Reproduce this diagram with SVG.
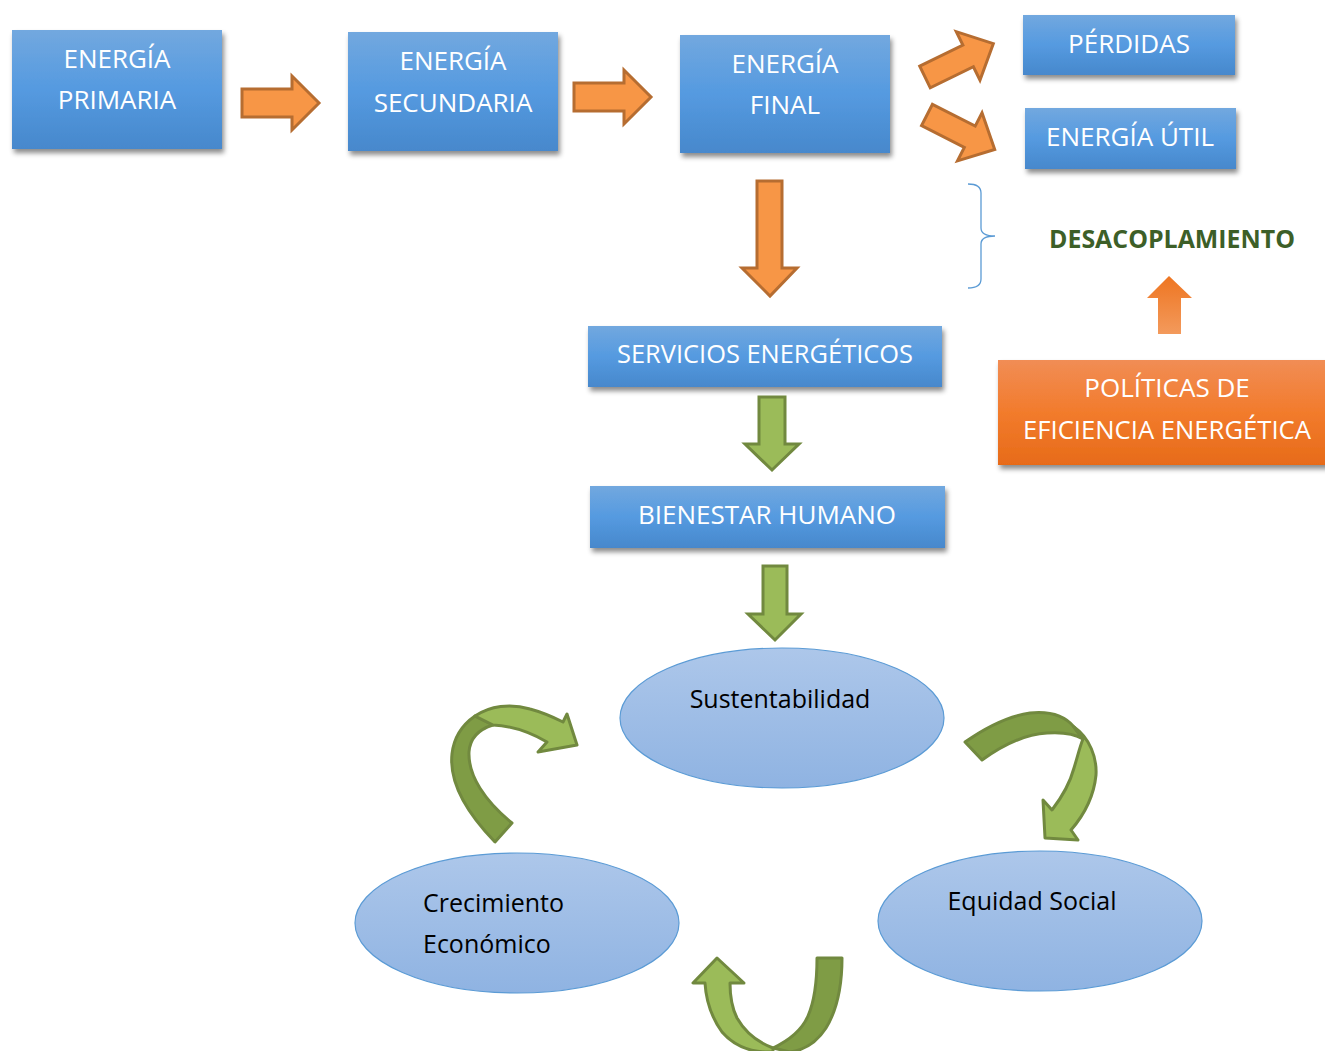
<svg xmlns="http://www.w3.org/2000/svg" width="1325" height="1051" viewBox="0 0 1325 1051">
  <defs>
    <linearGradient id="gBlue" x1="0" y1="0" x2="0" y2="1">
      <stop offset="0" stop-color="#72a8df"/>
      <stop offset="0.5" stop-color="#559ae0"/>
      <stop offset="1" stop-color="#4788cc"/>
    </linearGradient>
    <linearGradient id="gOrange" x1="0" y1="0" x2="0" y2="1">
      <stop offset="0" stop-color="#f18d55"/>
      <stop offset="0.5" stop-color="#f27b2c"/>
      <stop offset="1" stop-color="#e76b19"/>
    </linearGradient>
    <linearGradient id="gUp" x1="0" y1="0" x2="0" y2="1">
      <stop offset="0" stop-color="#ee7521"/>
      <stop offset="1" stop-color="#f39a5c"/>
    </linearGradient>
    <linearGradient id="gEllipse" x1="0" y1="0" x2="0" y2="1">
      <stop offset="0" stop-color="#adc7ea"/>
      <stop offset="1" stop-color="#8fb3e2"/>
    </linearGradient>
    <filter id="shadow" x="-10%" y="-20%" width="120%" height="150%">
      <feDropShadow dx="2" dy="4" stdDeviation="2.5" flood-color="#000" flood-opacity="0.45"/>
    </filter>
    <style>
      .box { fill: url(#gBlue); filter: url(#shadow); }
      .boxO { fill: url(#gOrange); filter: url(#shadow); }
      .lbl { font-family: "Open Sans", "Noto Sans", sans-serif; font-size: 26px; fill: #ffffff; text-anchor: middle; }
      .elab { font-family: "Open Sans", "Noto Sans", sans-serif; font-size: 25px; fill: #000000; }
      .ell { fill: url(#gEllipse); stroke: #5b9bd5; stroke-width: 1.2; }
      .arO { fill: #f79646; stroke: #b66d31; stroke-width: 3; stroke-linejoin: miter; }
      .arG { fill: #9bbb59; stroke: #71893f; stroke-width: 3; stroke-linejoin: miter; }
      .arGd { fill: #7f9c45; stroke: #71893f; stroke-width: 3; stroke-linejoin: round; }
      .arGl { fill: #9bbb59; stroke: #71893f; stroke-width: 3; stroke-linejoin: round; }
    </style>
  </defs>

  <!-- Energy chain boxes -->
  <g id="energia-primaria">
    <rect class="box" x="12" y="30" width="210" height="119"/>
    <text class="lbl" x="117" y="68">ENERGÍA</text>
    <text class="lbl" x="117" y="109">PRIMARIA</text>
  </g>
  <g id="energia-secundaria">
    <rect class="box" x="348" y="32" width="210" height="119"/>
    <text class="lbl" x="453" y="70">ENERGÍA</text>
    <text class="lbl" x="453" y="112">SECUNDARIA</text>
  </g>
  <g id="energia-final">
    <rect class="box" x="680" y="35" width="210" height="118"/>
    <text class="lbl" x="785" y="73">ENERGÍA</text>
    <text class="lbl" x="785" y="114">FINAL</text>
  </g>
  <g id="perdidas">
    <rect class="box" x="1023" y="15" width="212" height="60"/>
    <text class="lbl" x="1129" y="53">PÉRDIDAS</text>
  </g>
  <g id="energia-util">
    <rect class="box" x="1025" y="108" width="211" height="61"/>
    <text class="lbl" x="1130" y="146">ENERGÍA ÚTIL</text>
  </g>
  <g id="servicios">
    <rect class="box" x="588" y="326" width="354" height="61"/>
    <text class="lbl" x="765" y="363" textLength="296" lengthAdjust="spacingAndGlyphs">SERVICIOS ENERGÉTICOS</text>
  </g>
  <g id="bienestar">
    <rect class="box" x="590" y="486" width="355" height="62"/>
    <text class="lbl" x="767" y="524">BIENESTAR HUMANO</text>
  </g>
  <g id="politicas">
    <rect class="boxO" x="998" y="360" width="335" height="105"/>
    <text class="lbl" x="1167" y="397">POLÍTICAS DE</text>
    <text class="lbl" x="1167" y="439" textLength="288" lengthAdjust="spacingAndGlyphs">EFICIENCIA ENERGÉTICA</text>
  </g>
  <g id="desacoplamiento">
    <path d="M968,184 Q981,184 981,193 V228 Q981,236 995,236 Q981,236 981,244 V279 Q981,288 968,288" fill="none" stroke="#5b9bd5" stroke-width="1.3"/>
    <text x="1172" y="248" font-family="'Open Sans', 'Noto Sans', sans-serif" font-size="25" font-weight="bold" fill="#3d5f28" text-anchor="middle" textLength="246" lengthAdjust="spacingAndGlyphs">DESACOPLAMIENTO</text>
  </g>

  <!-- Sustainability ellipses -->
  <g id="sustentabilidad">
    <ellipse class="ell" cx="782" cy="718" rx="162" ry="70"/>
    <text class="elab" x="780" y="708" text-anchor="middle">Sustentabilidad</text>
  </g>
  <g id="crecimiento">
    <ellipse class="ell" cx="517" cy="923" rx="162" ry="70"/>
    <text class="elab" x="423" y="912">Crecimiento</text>
    <text class="elab" x="423" y="953">Económico</text>
  </g>
  <g id="equidad">
    <ellipse class="ell" cx="1040" cy="921" rx="162" ry="70"/>
    <text class="elab" x="1032" y="910" text-anchor="middle">Equidad Social</text>
  </g>

  <!-- Connectors -->
  <g id="connectors">
    <!-- block arrows along the energy chain -->
    <path class="arO" d="M242,89 H292 V76 L319,103 L292,130 V117 H242 Z"/>
    <path class="arO" d="M574,83 H624 V70 L651,97 L624,124 V111 H574 Z"/>
    <path class="arO" d="M0,-12 H48 V-27 L76,0 L48,27 V12 H0 Z" transform="translate(925,77) rotate(-26)"/>
    <path class="arO" d="M0,-12 H48 V-27 L76,0 L48,27 V12 H0 Z" transform="translate(927,115) rotate(27)"/>
    <path class="arO" d="M757,181 V268 H742 L770,296 L797,268 H782 V181 Z"/>
    <!-- policy arrow -->
    <path d="M1169,276 L1192,298 H1181 V334 H1158 V298 H1147 Z" fill="url(#gUp)"/>
    <!-- green down arrows -->
    <path class="arG" d="M759,397 V444 H745 L772,470 L799,444 H785 V397 Z"/>
    <path class="arG" d="M763,566 V614 H748 L775,640 L801,614 H787 V566 Z"/>

    <!-- curved arrow: growth to sustainability -->
    <path class="arGd" d="M495,842 C466,812 449,782 452,754 C454,736 462,725 475,716 L493,725 C480,729 470,737 469,752 C468,776 485,801 512,823 Z"/>
    <path class="arGl" d="M475,716 C490,706 510,703 530,709 C545,713 555,718 563,722 L567,714 L577,745 L538,752 L547,742 C535,735 515,726 493,725 Z"/>

    <!-- curved arrow: sustainability to equity -->
    <path class="arGd" d="M965,742 C985,728 1008,716 1030,713 C1050,711 1065,716 1074,727 L1083,739 C1075,734 1062,732 1047,733 C1025,734 1003,745 982,760 Z"/>
    <path class="arGl" d="M1074,727 C1090,738 1097,758 1096,775 C1094,795 1084,815 1071,830 L1078,840 L1045,838 L1043,800 L1052,810 C1062,797 1070,783 1074,768 C1078,755 1080,746 1083,739 Z"/>

    <!-- curved arrow: equity to growth -->
    <path class="arGd" d="M817,958 H842 C842,985 837,1010 826,1028 C817,1042 805,1050 790,1052 L773,1048 C790,1040 802,1030 808,1016 C815,1000 817,980 817,958 Z"/>
    <path class="arGl" d="M773,1048 C757,1042 745,1032 737,1018 C731,1006 730,993 730,983 H744 L717,958 L693,983 H705 C706,1000 712,1018 722,1032 C735,1047 752,1053 773,1052 Z"/>
  </g>
</svg>
